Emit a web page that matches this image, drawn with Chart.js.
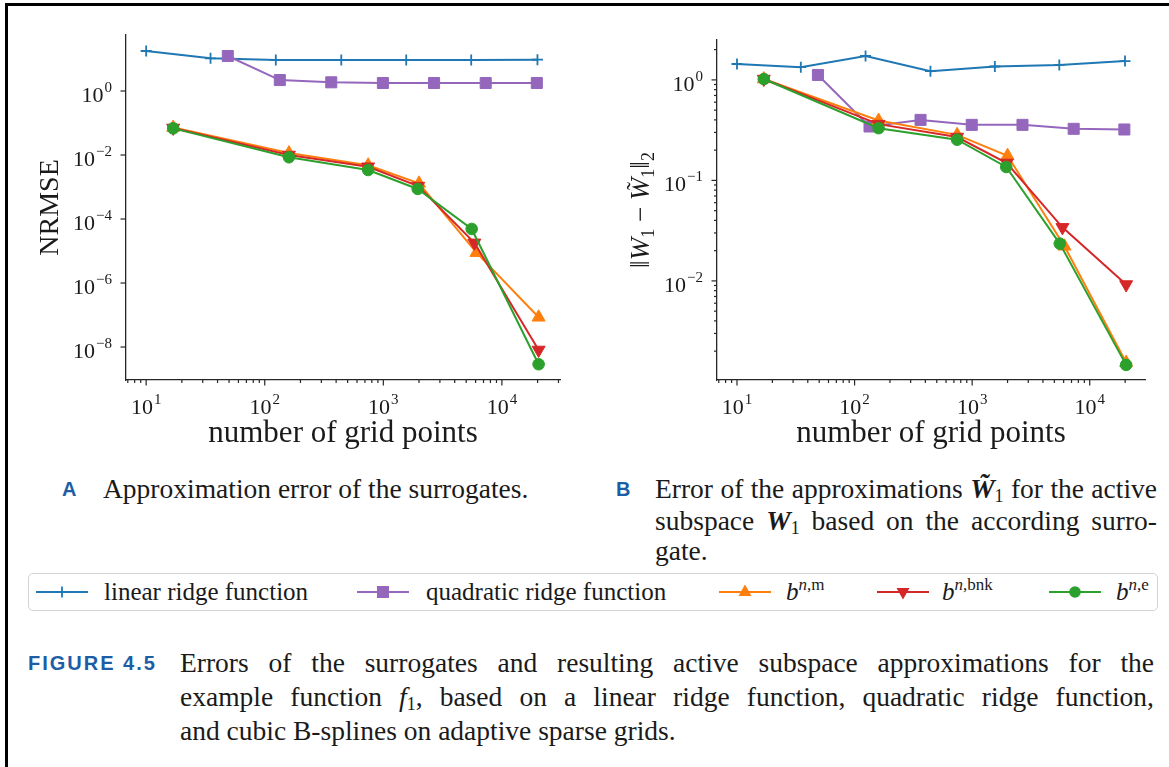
<!DOCTYPE html>
<html>
<head>
<meta charset="utf-8">
<script src="https://cdn.jsdelivr.net/npm/chart.js@4.4.1/dist/chart.umd.min.js"></script>
<style>
  html, body { margin: 0; padding: 0; background: #fff; }
  #page { position: relative; width: 1169px; height: 767px; overflow: hidden; background: #fff; }
  .frameL { position: absolute; left: 5px; top: 3px; width: 2.5px; height: 770px; background: #000; }
  .frameT { position: absolute; left: 5px; top: 3px; width: 1170px; height: 2.5px; background: #000; }
  .panel { position: absolute; top: 0; }
  .serif { font-family: 'Liberation Serif', 'Times New Roman', serif; color: #1a1a1a; }
  .lab { position: absolute; font-family: 'Liberation Sans', Arial, sans-serif; font-weight: bold; color: #1c5da6; }
  .cap { position: absolute; font-size: 27.5px; line-height: 31px; white-space: nowrap; }
  .just { text-align: justify; text-align-last: justify; white-space: normal; }
  #legend { position: absolute; left: 28px; top: 573px; width: 1130px; height: 38px; border: 1.5px solid #d3d3d3; border-radius: 5px; box-sizing: border-box; }
  .li { position: absolute; top: 0; height: 38px; }
  .lt { position: absolute; top: 3px; font-size: 25px; line-height: 30px; white-space: nowrap; }
  sub { font-size: 65%; vertical-align: -0.25em; line-height: 0; }
  sup { font-size: 68%; vertical-align: 0.6em; line-height: 0; }
</style>
</head>
<body>
<div id="page">
  <div class="frameL"></div>
  <div class="frameT"></div>

  <div class="panel" style="left:0px;width:580px;height:460px;"><canvas id="chartA" width="580" height="460"></canvas></div>
  <div class="panel" style="left:580px;width:589px;height:460px;"><canvas id="chartB" width="589" height="460"></canvas></div>

  <!-- sub-captions -->
  <div class="lab" style="left:62px;top:477px;font-size:20px;line-height:24px;">A</div>
  <div class="cap serif" style="left:103px;top:473px;">Approximation error of the surrogates.</div>
  <div class="lab" style="left:616px;top:477px;font-size:20px;line-height:24px;">B</div>
  <div class="cap serif just" style="left:655px;top:473px;width:502px;">Error of the approximations <b><i>W&#x0303;</i></b><sub>1</sub> for the active</div>
  <div class="cap serif just" style="left:655px;top:505px;width:502px;">subspace <b><i>W</i></b><sub>1</sub> based on the according surro-</div>
  <div class="cap serif" style="left:655px;top:535px;">gate.</div>

  <!-- shared legend -->
  <div id="legend"></div>

  <!-- figure caption -->
  <div class="lab" style="left:28px;top:651px;font-size:20px;line-height:24px;letter-spacing:2px;">FIGURE 4.5</div>
  <div class="cap serif just" style="left:180px;top:646px;width:974px;line-height:34px;">Errors of the surrogates and resulting active subspace approximations for the</div>
  <div class="cap serif just" style="left:180px;top:680px;width:974px;line-height:34px;">example function <i>f</i><sub>1</sub>, based on a linear ridge function, quadratic ridge function,</div>
  <div class="cap serif" style="left:180px;top:714px;line-height:34px;">and cubic B-splines on adaptive sparse grids.</div>
</div>

<script>
// ---------------- data ----------------
// number of grid points for each surrogate
const linX  = [10, 34.9, 124, 442, 1560, 5510, 19950];
const quadX = [48.8, 134, 364, 992, 2680, 7300, 19700];
const bmX   = [16.9, 160, 745, 2000, 6100, 20400];
const bbnkX = [16.9, 160, 745, 1970, 5860, 20400];
const beX   = [16.9, 160, 745, 1950, 5560, 20400];

// panel A: NRMSE
const nrmseLin  = [17.8, 10.5, 9.3, 9.3, 9.3, 9.3, 9.5];
const nrmseQuad = [12.4, 2.2, 1.87, 1.78, 1.78, 1.78, 1.78];
const nrmseBm   = [0.072, 0.0115, 0.0048, 0.0013, 8.9e-6, 8.5e-8];
const nrmseBbnk = [0.070, 0.0100, 0.0043, 0.00107, 1.8e-5, 8.1e-9];
const nrmseBe   = [0.068, 0.0085, 0.0034, 0.00087, 4.9e-5, 2.9e-9];

// panel B: ||W1 - W~1||_2
const errLin  = [1.44, 1.34, 1.73, 1.22, 1.36, 1.41, 1.54];
const errQuad = [1.12, 0.344, 0.40, 0.357, 0.357, 0.326, 0.321];
const errBm   = [1.02, 0.394, 0.284, 0.176, 0.0221, 0.00154];
const errBbnk = [1.02, 0.363, 0.270, 0.149, 0.0341, 0.0092];
const errBe   = [1.02, 0.331, 0.254, 0.136, 0.0235, 0.00146];

// tick labels (exponents of 10)
const xTickExps  = [1, 2, 3, 4];
const aYTickExps = [0, -2, -4, -6, -8];
const bYTickExps = [0, -1, -2];

// series names
const seriesNames = ['linear ridge function', 'quadratic ridge function', 'b^{n,m}', 'b^{n,bnk}', 'b^{n,e}'];

// ---------------- styling ----------------
const C = { blue: '#1f77b4', purple: '#9467bd', orange: '#ff7f0e', red: '#d62728', green: '#2ca02c' };
const AXIS = '#262626';
const SERIF = "'Liberation Serif', 'Times New Roman', serif";

function pts(xs, ys) { return xs.map((x, i) => ({ x: x, y: ys[i] })); }

function minorTicks(lo, hi) {
  const out = [];
  for (let k = Math.floor(Math.log10(lo)); k <= Math.ceil(Math.log10(hi)); k++) {
    for (let m = 2; m <= 9; m++) {
      const v = m * Math.pow(10, k);
      if (v >= lo && v <= hi) out.push(v);
    }
  }
  return out;
}

function drawPow(ctx, exp, x, base, align) {
  const main = '10';
  const sup = exp < 0 ? '\u2212' + (-exp) : String(exp);
  ctx.font = '22px ' + SERIF; const w1 = ctx.measureText(main).width;
  ctx.font = '15px ' + SERIF; const w2 = ctx.measureText(sup).width;
  const tot = w1 + 1 + w2;
  const x0 = align === 'center' ? x - tot / 2 : x - tot;
  ctx.textAlign = 'left'; ctx.textBaseline = 'alphabetic';
  ctx.font = '22px ' + SERIF; ctx.fillText(main, x0, base);
  ctx.font = '15px ' + SERIF; ctx.fillText(sup, x0 + w1 + 1, base - 10);
}

function drawRuns(ctx, runs, cx, cy) {
  let total = 0;
  runs.forEach(r => { ctx.font = r.font; r.w = ctx.measureText(r.t).width; total += r.w; });
  ctx.save();
  ctx.translate(cx, cy);
  ctx.rotate(-Math.PI / 2);
  ctx.textAlign = 'left'; ctx.textBaseline = 'alphabetic';
  let xx = -total / 2;
  runs.forEach(r => {
    ctx.font = r.font;
    ctx.fillText(r.t, xx, 9 + (r.dy || 0));
    if (r.tilde) {
      ctx.font = '24px ' + SERIF;
      const tw = ctx.measureText('\u02DC').width;
      ctx.fillText('\u02DC', xx + r.w / 2 - tw / 2 + 3, 9 - 6);
    }
    xx += r.w;
  });
  ctx.restore();
}

const axisDeco = {
  id: 'axisDeco',
  afterDraw(chart, args, o) {
    const ctx = chart.ctx, a = chart.chartArea, xs = chart.scales.x, ys = chart.scales.y;
    ctx.save();
    ctx.strokeStyle = AXIS; ctx.fillStyle = '#1a1a1a'; ctx.lineWidth = 1.2;
    const seg = (x1, y1, x2, y2) => { ctx.beginPath(); ctx.moveTo(x1, y1); ctx.lineTo(x2, y2); ctx.stroke(); };
    o.xMajor.forEach(e => {
      const p = xs.getPixelForValue(Math.pow(10, e));
      seg(p, a.bottom, p, a.bottom + 5.5);
      drawPow(ctx, e, p, a.bottom + 34, 'center');
    });
    minorTicks(xs.min, xs.max).forEach(v => {
      const p = xs.getPixelForValue(v);
      seg(p, a.bottom, p, a.bottom + 3);
    });
    o.yMajor.forEach(e => {
      const p = ys.getPixelForValue(Math.pow(10, e));
      seg(a.left - 5.5, p, a.left, p);
      drawPow(ctx, e, a.left - 14, p + 11, 'right');
    });
    if (o.yMinor) {
      minorTicks(ys.min, ys.max).forEach(v => {
        const p = ys.getPixelForValue(v);
        seg(a.left - 3, p, a.left, p);
      });
    }
    if (o.yTitleRuns) drawRuns(ctx, o.yTitleRuns, o.yTitleX, (a.top + a.bottom) / 2);
    ctx.restore();
  }
};

function datasets(xsArr, ysArr) {
  const base = { borderWidth: 2, tension: 0, pointBorderWidth: 1 };
  return [
    Object.assign({}, base, { label: seriesNames[0], data: pts(xsArr[0], ysArr[0]), borderColor: C.blue, backgroundColor: C.blue,
      pointStyle: 'cross', pointRadius: 5.5, pointBorderWidth: 1.8, order: 5 }),
    Object.assign({}, base, { label: seriesNames[1], data: pts(xsArr[1], ysArr[1]), borderColor: C.purple, backgroundColor: C.purple,
      pointStyle: 'rect', pointRadius: 7.8, order: 4 }),
    Object.assign({}, base, { label: seriesNames[2], data: pts(xsArr[2], ysArr[2]), borderColor: C.orange, backgroundColor: C.orange,
      pointStyle: 'triangle', pointRadius: 7.5, order: 3 }),
    Object.assign({}, base, { label: seriesNames[3], data: pts(xsArr[3], ysArr[3]), borderColor: C.red, backgroundColor: C.red,
      pointStyle: 'triangle', pointRotation: 180, pointRadius: 7.5, order: 2 }),
    Object.assign({}, base, { label: seriesNames[4], data: pts(xsArr[4], ysArr[4]), borderColor: C.green, backgroundColor: C.green,
      pointStyle: 'circle', pointRadius: 5.8, order: 1 })
  ];
}

function makePanel(id, ds, cfg) {
  return new Chart(document.getElementById(id), {
    type: 'line',
    data: { datasets: ds },
    options: {
      responsive: false, animation: false, devicePixelRatio: 1,
      layout: { padding: { left: 0, right: cfg.padRight, top: cfg.padTop, bottom: 0 } },
      plugins: { legend: { display: false }, tooltip: { enabled: false }, axisDeco: cfg.deco },
      scales: {
        x: {
          type: 'logarithmic', min: cfg.xMin, max: cfg.xMax,
          grid: { display: false }, ticks: { display: false },
          border: { display: true, color: AXIS, width: 1.3 },
          title: { display: true, text: 'number of grid points', color: '#1a1a1a',
                   font: { family: SERIF, size: 31 }, padding: { top: 0, bottom: 8 } },
          afterFit: s => { s.height = 80; }
        },
        y: {
          type: 'logarithmic', min: cfg.yMin, max: cfg.yMax,
          grid: { display: false }, ticks: { display: false },
          border: { display: true, color: AXIS, width: 1.3 },
          title: cfg.yTitle,
          afterFit: s => { s.width = cfg.yWidth; }
        }
      }
    },
    plugins: [axisDeco]
  });
}

makePanel('chartA',
  datasets([linX, quadX, bmX, bbnkX, beX], [nrmseLin, nrmseQuad, nrmseBm, nrmseBbnk, nrmseBe]),
  { padRight: 20, padTop: 35, yWidth: 126,
    xMin: Math.pow(10, 0.83), xMax: Math.pow(10, 4.49),
    yMin: Math.pow(10, -9.03), yMax: Math.pow(10, 1.75),
    yTitle: { display: true, text: 'NRMSE', color: '#1a1a1a', font: { family: SERIF, size: 28 }, padding: { top: 34, bottom: 0 } },
    deco: { xMajor: xTickExps, yMajor: aYTickExps, yMinor: false } });

makePanel('chartB',
  datasets([linX, quadX, bmX, bbnkX, beX], [errLin, errQuad, errBm, errBbnk, errBe]),
  { padRight: 24, padTop: 40, yWidth: 137,
    xMin: Math.pow(10, 0.83), xMax: Math.pow(10, 4.47),
    yMin: Math.pow(10, -2.986), yMax: Math.pow(10, 0.397),
    yTitle: { display: false },
    deco: { xMajor: xTickExps, yMajor: bYTickExps, yMinor: true, yTitleX: 60,
      yTitleRuns: [
        { t: '\u2016', font: '27px ' + SERIF },
        { t: 'W', font: 'italic 27px ' + SERIF },
        { t: '1', font: '18px ' + SERIF, dy: 5 },
        { t: ' \u2212 ', font: '27px ' + SERIF },
        { t: 'W', font: 'italic 27px ' + SERIF, tilde: true },
        { t: '1', font: '18px ' + SERIF, dy: 5 },
        { t: '\u2016', font: '27px ' + SERIF },
        { t: '2', font: '18px ' + SERIF, dy: 5 }
      ] } });

// ---------------- shared legend ----------------
const legendItems = [
  { left: 35, textLeft: 103, color: C.blue, marker: 'cross', html: seriesNames[0] },
  { left: 356, textLeft: 425, color: C.purple, marker: 'rect', html: seriesNames[1] },
  { left: 718, textLeft: 785, color: C.orange, marker: 'up', html: '<i>b</i><sup><i>n</i>,m</sup>' },
  { left: 876, textLeft: 941, color: C.red, marker: 'down', html: '<i>b</i><sup><i>n</i>,bnk</sup>' },
  { left: 1048, textLeft: 1115, color: C.green, marker: 'circle', html: '<i>b</i><sup><i>n</i>,e</sup>' }
];
function markerSvg(m, c) {
  const cx = 26, cy = 19;
  switch (m) {
    case 'cross': return `<line x1="${cx-5.5}" y1="${cy}" x2="${cx+5.5}" y2="${cy}" stroke="${c}" stroke-width="1.8"/><line x1="${cx}" y1="${cy-5.5}" x2="${cx}" y2="${cy+5.5}" stroke="${c}" stroke-width="1.8"/>`;
    case 'rect': return `<rect x="${cx-6}" y="${cy-6}" width="12" height="12" fill="${c}"/>`;
    case 'up': return `<polygon points="${cx},${cy-7.5} ${cx+6.5},${cy+4} ${cx-6.5},${cy+4}" fill="${c}"/>`;
    case 'down': return `<polygon points="${cx},${cy+7.5} ${cx+6.5},${cy-4} ${cx-6.5},${cy-4}" fill="${c}"/>`;
    default: return `<circle cx="${cx}" cy="${cy}" r="5.8" fill="${c}"/>`;
  }
}
const leg = document.getElementById('legend');
legendItems.forEach(it => {
  const d = document.createElement('div');
  d.className = 'li';
  d.style.left = (it.left - 28) + 'px';
  d.innerHTML = `<svg width="52" height="38" style="position:absolute;left:0;top:-1px"><line x1="0" y1="19" x2="52" y2="19" stroke="${it.color}" stroke-width="2"/>${markerSvg(it.marker, it.color)}</svg>`;
  leg.appendChild(d);
  const t = document.createElement('div');
  t.className = 'lt serif';
  t.style.left = (it.textLeft - 28) + 'px';
  t.innerHTML = it.html;
  leg.appendChild(t);
});
</script>
</body>
</html>
